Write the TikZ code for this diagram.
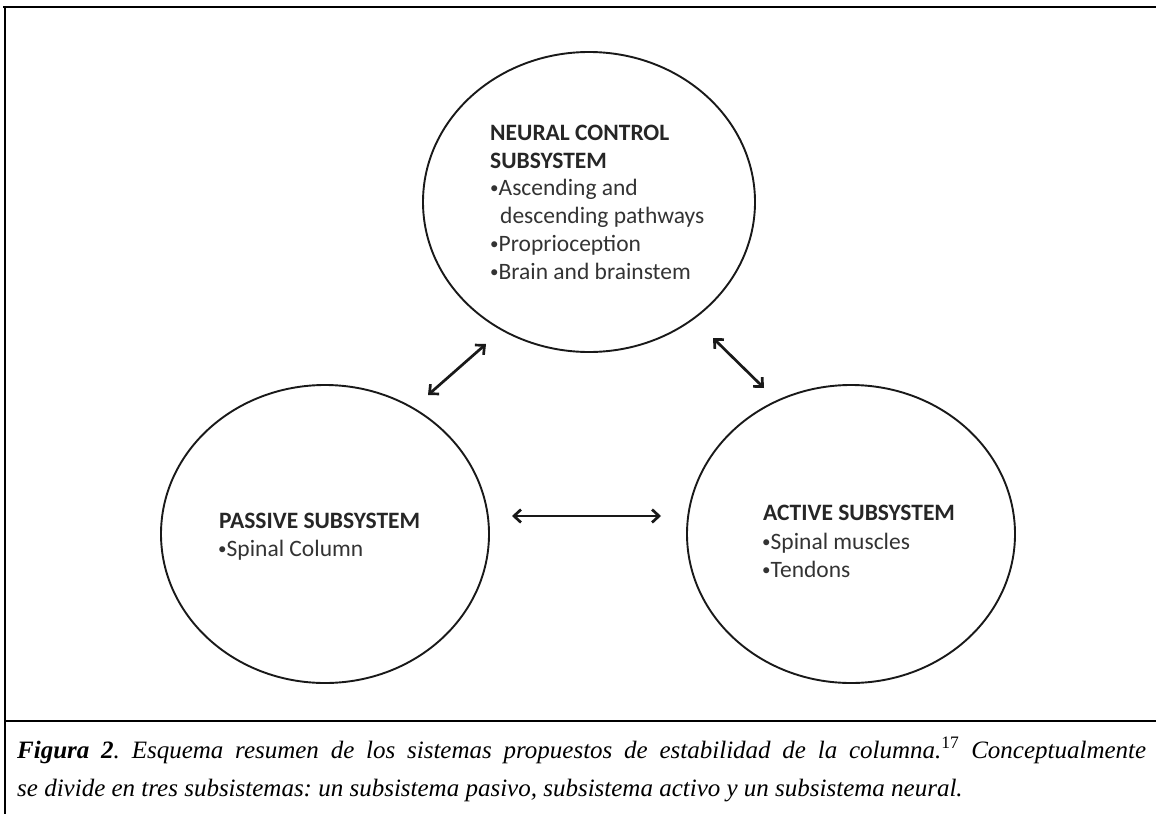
\documentclass[tikz,border=0pt]{standalone}
\usepackage{fontspec}
\setmainfont{Liberation Serif}
\newfontfamily\calfont{Carlito}
\usetikzlibrary{shapes.geometric,arrows.meta}
\newcommand\bul{{\fontsize{17}{17}\selectfont\raisebox{1.2pt}{•}}}
\frenchspacing
\begin{document}
\begin{tikzpicture}[x=1pt,y=-1pt,
  circ/.style={ellipse, draw=black!90, line width=1.9pt, inner sep=0pt},
  link/.style={{Straight Barb[length=7pt,width=13pt]}-{Straight Barb[length=7pt,width=13pt]}, line width=2.7pt, draw=black!90},
  headtxt/.style={font=\calfont\bfseries\fontsize{23.5}{28}\selectfont, anchor=base west, inner sep=0pt, text=black!85},
  itemtxt/.style={font=\calfont\fontsize{23.5}{28}\selectfont, anchor=base west, inner sep=0pt, text=black!80},
  captxt/.style={font=\itshape\fontsize{25}{30}\selectfont, anchor=base west, inner sep=0pt},
  rule/.style={line width=2.6pt, draw=black}]
\useasboundingbox (0,0) rectangle (1156,814);
% frame
\draw[rule] (3,7) -- (1156,7);
\draw[rule] (5,7) -- (5,814);
\draw[rule] (5,721) -- (1156,721);
% circles
\node[circ, minimum width=332pt, minimum height=300pt] (neural) at (589,202) {};
\node[circ, minimum width=328pt, minimum height=298pt] (passive) at (325,534) {};
\node[circ, minimum width=328pt, minimum height=298pt] (active) at (851,534) {};
% arrow end points
\coordinate (pl) at (428,395);
\coordinate (nl) at (486,344);
\coordinate (nr) at (713,338);
\coordinate (ar) at (764,388);
\coordinate (ph) at (512,516);
\coordinate (ah) at (661,516);
\draw[link] (pl) -- (nl);
\draw[link] (nr) -- (ar);
\draw[link] (ph) -- (ah);
% neural text
\node[headtxt] (n1) at (490,140) {NEURAL CONTROL};
\node[headtxt] (n2) at (490,168) {SUBSYSTEM};
\node[itemtxt] (n3) at (490,195) {\bul Ascending and};
\node[itemtxt] (n4) at (500,223) {descending pathways};
\node[itemtxt] (n5) at (490,251) {\bul Proprioception};
\node[itemtxt] (n6) at (490,279) {\bul Brain and brainstem};
% passive text
\node[headtxt] (p1) at (219,528) {PASSIVE SUBSYSTEM};
\node[itemtxt] (p2) at (218,556) {\bul Spinal Column};
% active text
\node[headtxt] (a1) at (763,520) {ACTIVE SUBSYSTEM};
\node[itemtxt] (a2) at (762,549) {\bul Spinal muscles};
\node[itemtxt] (a3) at (762,577) {\bul Tendons};
% caption
\node[captxt] (c1) at (17,758) {\makebox[1129pt][s]{{\bfseries Figura 2}. Esquema resumen de los sistemas propuestos de estabilidad de la columna.\textsuperscript{\upshape 17} Conceptualmente}};
\node[captxt] (c2) at (17,796) {se divide en tres subsistemas: un subsistema pasivo, subsistema activo y un subsistema neural.};
\end{tikzpicture}
\end{document}
